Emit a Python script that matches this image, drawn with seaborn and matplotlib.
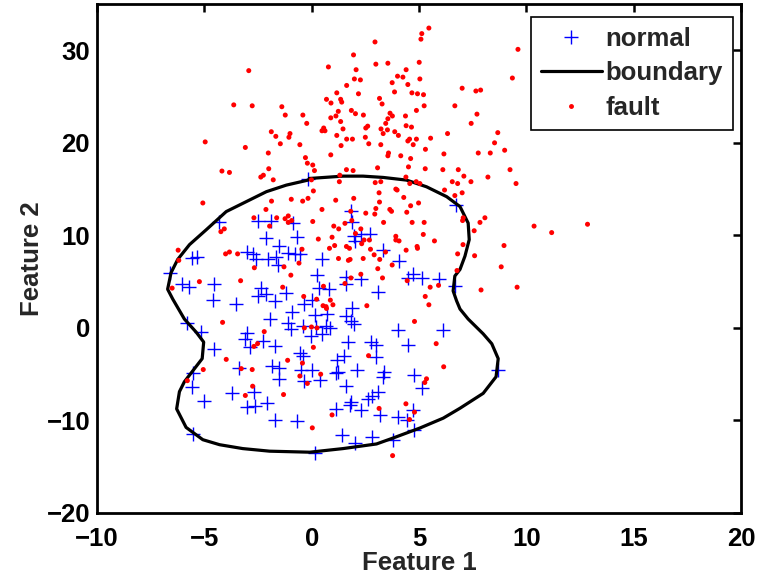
import matplotlib
matplotlib.use("Agg")
import matplotlib.pyplot as plt
import seaborn as sns
from matplotlib.lines import Line2D

# ---- data ----
normal_x = [-4.33, -2.49, -1.91, -0.87, -0.17, -2.15, -0.69, -1.54, -3.03, -2.72, -1.12, -0.76, -0.56,
            -5.33, -5.59, -1.65, -2.60, -2.04, -1.59, -6.59, -6.05, -5.71, -4.54, -4.61, -3.51, -2.35,
            -2.52, -2.11, -1.71, -1.20, -0.36, -1.95, -0.92, -5.80,
            1.81, 1.87, 2.29, 2.74, 1.98, 2.02, 3.30, 0.47, 4.06, 0.27, 1.59, 2.29, 1.59, 0.33, 0.81,
            3.07, 4.51, 4.71, 5.12, 5.91, 6.67, 0.01, 1.88, 0.14, 0.71, 1.59, 6.72,
            -5.15, -3.03, -3.09, -2.29, -2.89, -1.69, -4.53, -1.11, -0.97, -0.41, -0.55, -0.39, -3.39,
            -1.83, -1.53, -5.54, -0.50, -1.53, -5.59, -0.36, -3.70, -2.67, -5.03, -2.07, -3.00, -2.65,
            -1.73, -0.69, -5.54,
            0.65, 0.22, 0.47, 0.84, -0.01, 1.85, 1.95, 4.00, 6.10, 1.67, 2.75, 3.02, 4.47, 1.52, 3.02,
            1.17, 0.03, 1.15, 1.23, 2.10, 3.39, 3.33, 4.79, 0.37, 1.62, 5.15, 3.09, 2.83, 2.63, 1.81,
            1.77, 1.15, 2.29, 3.17, 4.70, 4.00, 4.42, 4.77, 1.41, 2.83, 2.00, 3.79, 0.17, 8.69]
normal_y = [11.4, 11.6, 11.6, 11.3, 16.1, 9.7, 9.8, 8.9, 8.2, 8.0, 8.1, 8.0, 8.0,
            7.7, 7.6, 7.7, 7.5, 7.4, 6.8, 5.9, 4.7, 4.4, 4.7, 3.0, 2.6, 4.3,
            3.5, 3.7, 2.9, 3.8, 2.6, 1.0, 1.7, 0.5,
            12.6, 11.4, 10.2, 10.1, 9.9, 9.4, 8.4, 7.5, 7.2, 5.7, 5.5, 5.3, 4.7, 4.3, 4.2,
            3.9, 5.4, 5.8, 5.4, 5.3, 4.5, 3.0, 2.1, 1.4, 1.5, 1.3, 13.3,
            -0.4, -0.6, -1.2, -1.4, -2.1, -2.0, -2.3, 0.5, -0.1, 0.2, -2.7, -3.0, -4.3,
            -4.1, -4.3, -4.9, -4.5, -5.5, -6.4, -5.7, -7.0, -6.9, -7.9, -8.1, -8.5, -8.4,
            -9.9, -10.1, -11.5,
            0.2, 0.1, -0.7, 0.0, -0.9, 0.8, 0.4, -0.2, -0.2, -1.5, -1.5, -1.9, -1.8, -3.0, -3.1,
            -3.5, -4.6, -4.9, -4.8, -4.6, -4.8, -5.3, -5.1, -5.6, -6.3, -6.5, -6.9, -7.4, -7.7, -8.0,
            -8.3, -8.8, -8.9, -9.4, -8.9, -9.6, -9.9, -11.0, -11.6, -11.8, -12.4, -12.1, -13.5, -4.5]

fault_x = [-2.93, -3.63, -2.77, -1.39, -0.41, -1.23, -0.23, -1.88, -1.67, -1.01, -1.06, -4.96, -3.09,
           -1.46, -0.55, -2.02, -0.29, -0.20, -2.00, -4.18,
           5.46, 5.13, 5.09, 2.95, 1.95, 0.78, 2.99, 3.55, 5.01, 2.07, 4.40, 4.00, 4.25, 1.99, 2.27,
           5.04, 3.75, 1.63, 4.48, 3.86, 4.67, 4.93, 5.21, 1.17, 2.18, 0.69, 1.35, 1.40, 0.90, 3.16,
           3.28, 5.24, 6.67, 4.88, 1.85, 1.24, 2.04, 2.41, 3.65, 3.76, 3.55, 4.37, 0.89, 1.13, 1.35,
           3.45, 4.40, 4.65, 2.61, 2.52, 3.23, 3.53, 1.46, 0.56, 0.48, 0.62, 3.87, 3.33, 4.04, 1.17,
           2.50, 1.90, 1.63, 4.56, 4.48, 4.88, 5.54, 6.33, 2.66, 3.22, 4.73, 1.37, 5.30, 0.89, 3.58,
           3.55, 4.15, 4.61, 6.16, 0.05, 3.07, 4.51, 1.62, 1.93, 5.29, 6.11, 6.83, 0.13,
           9.61, 9.35, 7.01, 7.65, 7.87, 7.70, 7.43, 8.67, 8.52, 8.99, 7.76, 8.32, 9.24,
           -3.83, -2.37, -2.25, -1.79, -5.07, -1.87, -0.95, -0.42, -0.17, -2.13, -2.69, -1.63, -1.09,
           -1.24, -1.09, -0.93, -1.96, -4.23, -4.07, -6.22, -6.19, -4.01, -3.83, -3.45, -0.45, -2.67,
           -1.29, -0.59, -0.97, -5.23, -3.31, -6.50, -1.35, -0.37,
           1.31, 4.39, -0.01, 1.29, 2.96, 3.22, 4.57, 4.87, 5.04, 6.55, 6.80, 0.08, 3.92, 3.98, 3.14,
           6.19, 6.67, 1.96, 1.12, 4.29, 3.16, 4.98, 4.61, 0.48, 2.99, 3.64, 3.72, 2.52, 2.94, 4.43,
           1.82, 1.87, 0.05, 1.55, 3.35, 4.68, 5.24, 1.03, 1.26, 2.29, 2.04, 0.95, 0.31, 2.44, 2.69,
           3.92, 3.92, 4.07, 5.20, 5.72, 2.33, 1.07, 1.62, 1.76, 0.83, 2.74, 3.44, 4.40, 4.91, 4.93,
           2.91, 6.80, 1.25, 1.71, 1.79, 2.40, 3.17, 3.75, 3.08, 6.77, 2.29, 1.83, 3.30, 4.45, 1.55,
           0.55, 5.91, 5.52, 5.29, 5.46, 0.23, 0.87, 0.99, 0.53, 0.67, 0.69, 2.57,
           7.09, 8.21, 7.42, 9.52, 7.01, 7.06, 7.03, 8.07, 7.84, 7.57, 10.36, 11.18, 12.85, 7.05, 8.96,
           7.59, 8.83, 7.89, 9.57,
           -4.15, -2.21, -0.34, -2.69, -2.52, -3.98, -5.05, -3.28, -2.77, -1.12, -0.43, -0.55, -0.20,
           -5.79, -2.75, -3.09, -1.31,
           -0.01, 0.25, 4.79, 5.80, 0.08, 2.65, 6.15, 0.42, 5.35, 5.27, 4.39, 3.14, 4.79, 4.56, 0.95,
           0.03, 3.77]
fault_y = [27.8, 24.1, 24.0, 23.9, 23.0, 23.0, 22.1, 21.2, 20.7, 21.0, 20.6, 20.1, 19.5,
           19.9, 19.8, 18.9, 18.4, 17.8, 17.2, 16.95,
           32.4, 31.8, 31.2, 30.9, 29.5, 28.2, 28.5, 28.6, 28.7, 27.9, 27.9, 27.2, 27.1, 26.9, 26.8,
           26.9, 26.5, 26.2, 26.3, 25.5, 25.4, 25.3, 25.2, 25.4, 25.3, 24.7, 24.7, 24.4, 24.3, 24.8,
           24.2, 24.0, 24.0, 23.5, 23.5, 23.4, 23.15, 23.0, 23.2, 22.9, 22.6, 22.9, 22.7, 22.9, 22.3,
           22.1, 21.85, 21.7, 21.8, 21.6, 21.5, 21.4, 21.5, 21.6, 21.3, 21.3, 21.2, 21.0, 20.8, 20.8,
           20.6, 20.4, 20.4, 20.4, 20.2, 20.4, 20.5, 21.0, 19.9, 19.8, 19.8, 19.7, 19.3, 18.7, 18.9,
           18.6, 18.6, 18.3, 18.8, 17.6, 17.3, 17.4, 17.1, 17.0, 17.2, 17.1, 17.1, 17.0,
           30.1, 27.0, 25.9, 25.6, 25.7, 23.1, 22.1, 21.1, 20.0, 19.2, 18.9, 18.9, 17.1,
           16.8, 16.3, 16.5, 16.0, 13.5, 13.7, 13.9, 13.7, 14.0, 12.8, 11.9, 11.9, 12.1,
           11.8, 11.4, 11.6, 11.0, 10.4, 10.7, 8.4, 7.3, 8.0, 8.2, 8.0, 8.5, 6.5,
           6.6, 7.0, 5.7, 5.0, 5.1, 4.3, 4.4, 3.4,
           16.5, 16.3, 16.0, 15.8, 15.7, 15.8, 15.6, 15.8, 15.6, 15.8, 15.6, 14.8, 15.0, 14.9, 14.6,
           14.9, 14.3, 14.0, 13.8, 14.1, 13.6, 13.5, 13.2, 12.8, 12.9, 12.8, 12.6, 12.4, 12.3, 12.5,
           12.6, 11.6, 11.5, 11.3, 11.4, 11.4, 11.4, 11.0, 10.7, 10.7, 10.2, 9.8, 9.6, 9.5, 9.5,
           9.9, 9.5, 9.4, 10.1, 9.4, 9.1, 8.9, 8.8, 8.6, 8.6, 8.5, 8.2, 8.4, 8.8, 8.6,
           7.9, 8.0, 7.5, 7.3, 7.4, 7.5, 7.4, 6.8, 6.4, 6.2, 5.8, 5.4, 5.4, 5.1, 4.8,
           4.5, 4.6, 4.4, 3.4, 2.5, 3.1, 3.0, 2.5, 2.4, 2.3, 2.1, 2.4,
           16.4, 16.3, 15.8, 15.6, 14.6, 11.9, 11.6, 11.9, 11.4, 10.5, 11.0, 10.3, 11.2, 9.0, 8.9,
           7.8, 6.6, 4.1, 4.4,
           0.6, -0.4, 0.0, -2.0, -1.7, -3.4, -4.5, -4.4, -4.5, -3.5, -3.8, -5.2, -6.0,
           -5.7, -6.3, -7.3, -7.2,
           0.1, 0.0, 0.7, -1.7, -2.1, -3.0, -4.2, -5.0, -5.5, -5.9, -8.2, -8.7, -9.1, -9.9, -9.4,
           -10.8, -13.8]

boundary_x = [-0.09, 1.46, 2.39, 3.33, 4.42, 5.35, 6.29, 6.91, 7.29, 7.34, 7.14, 6.91, 6.67, 6.59,
              6.75, 6.91, 7.29, 7.99, 8.39, 8.69, 8.59, 7.99, 6.91, 6.13, 5.04, 3.79, 3.02, 1.46,
              -0.09, -1.96, -3.21, -4.29, -5.07, -5.85, -6.29, -6.16, -5.93, -5.10, -5.03, -5.38,
              -5.93, -6.47, -6.71, -6.55, -6.24, -5.69, -4.91, -3.98, -3.05, -2.11, -1.18, -0.17]
boundary_y = [16.15, 16.40, 16.40, 16.26, 15.97, 15.25, 14.18, 13.11, 11.33, 9.54, 7.75, 6.32, 5.61,
              4.00, 2.93, 2.04, 0.96, -0.64, -1.71, -3.32, -5.28, -7.07, -8.68, -9.75, -10.82,
              -11.90, -12.54, -13.04, -13.43, -13.32, -13.04, -12.62, -12.08, -10.75, -8.75, -6.89,
              -5.82, -3.32, -1.53, -0.46, 0.96, 3.11, 4.18, 5.97, 7.40, 9.00, 10.61, 12.57, 13.64,
              14.72, 15.43, 15.97]

x_ticks = [-10, -5, 0, 5, 10, 15, 20]
y_ticks = [-20, -10, 0, 10, 20, 30]
legend_labels = ["normal", "boundary", "fault"]
x_label = "Feature 1"
y_label = "Feature 2"

# ---- style ----
sns.set_style("white")
plt.rcParams['font.family'] = ['Liberation Sans', 'DejaVu Sans']
plt.rcParams['font.weight'] = 'bold'
plt.rcParams['axes.labelweight'] = 'bold'

FS = 18.5
fig = plt.figure(figsize=(7.6, 5.81), dpi=100)
ax = fig.add_axes([97 / 760, 68 / 581, 644 / 760, 509 / 581])

sns.scatterplot(x=normal_x, y=normal_y, marker='+', s=95, color='#0000ff',
                linewidth=1.0, ax=ax, legend=False, zorder=2)
sns.lineplot(x=boundary_x + boundary_x[:1], y=boundary_y + boundary_y[:1], sort=False,
             estimator=None, color='black', linewidth=2.3, ax=ax, legend=False, zorder=3)
sns.scatterplot(x=fault_x, y=fault_y, s=13, color='#ff0000', edgecolor='none',
                linewidth=0, ax=ax, legend=False, zorder=4)

ax.set_xlim(-10, 20)
ax.set_ylim(-20, 35)
ax.set_xticks(x_ticks)
ax.set_yticks(y_ticks)
ax.tick_params(direction='in', top=True, right=True, length=6, width=1.8,
               labelsize=FS, colors='black')
ax.tick_params(axis='x', pad=10)
ax.tick_params(axis='y', pad=5)
for lab in ax.get_xticklabels() + ax.get_yticklabels():
    lab.set_fontweight('bold')
for sp in ax.spines.values():
    sp.set_linewidth(2.0)
    sp.set_color('black')

ax.set_xlabel(x_label, fontsize=FS, fontweight='bold', labelpad=0)
ax.set_ylabel(y_label, fontsize=FS, fontweight='bold', labelpad=2)

handles = [
    Line2D([], [], marker='+', color='#0000ff', linestyle='none', markersize=10, markeredgewidth=1.0),
    Line2D([], [], color='black', linewidth=2.3),
    Line2D([], [], marker='.', color='#ff0000', linestyle='none', markersize=5),
]
leg = ax.legend(handles, legend_labels, loc='upper right', bbox_to_anchor=(0.9876, 0.975),
                borderaxespad=0, fancybox=False, framealpha=1, edgecolor='black',
                prop={'size': FS, 'weight': 'bold'}, handlelength=2.35, handletextpad=0.15,
                labelspacing=0.4, borderpad=0.4)
leg.get_frame().set_linewidth(1.2)

fig.savefig("out.png", dpi=100)
